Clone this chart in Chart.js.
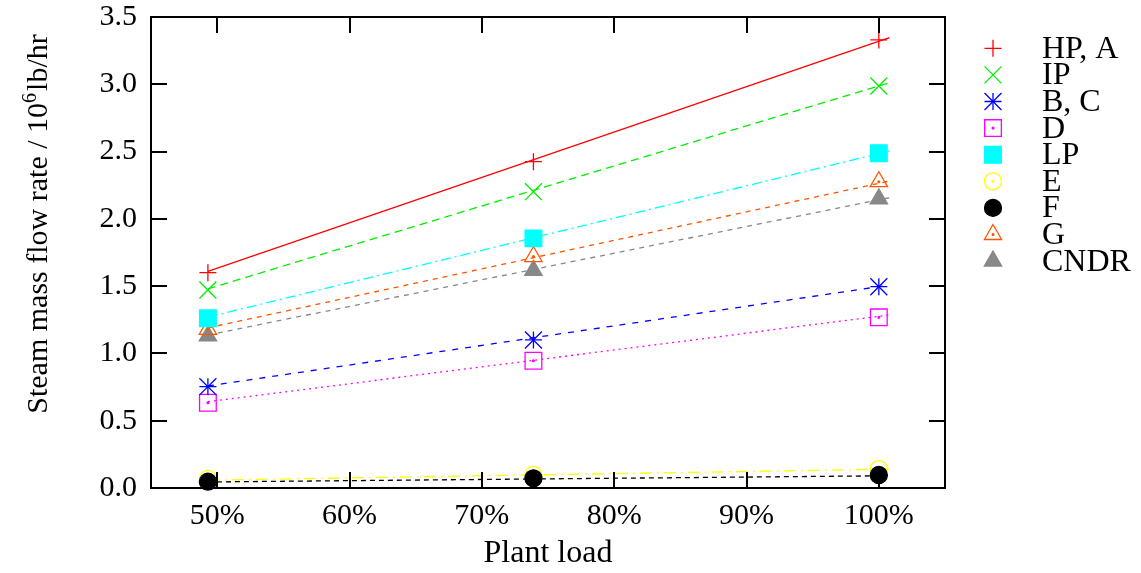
<!DOCTYPE html>
<html><head><meta charset="utf-8">
<script src="https://cdn.jsdelivr.net/npm/chart.js@4/dist/chart.umd.min.js"></script>
<style>html,body{margin:0;padding:0;background:#fff}#wrap{width:1141px;height:573px}</style>
</head><body><div id="wrap"><canvas id="c" width="1141" height="573"></canvas></div>
<script>
// ---- data ----
const seriesNames = ['HP, A', 'IP', 'B, C', 'D', 'LP', 'E', 'F', 'G', 'CNDR'];
const xLoad = [49.3, 73.9, 100];
const hpA  = [1.600, 2.425, 3.330];
const ip   = [1.471, 2.202, 2.987];
const bc   = [0.753, 1.100, 1.496];
const dD   = [0.634, 0.946, 1.268];
const lp   = [1.261, 1.855, 2.487];
const eE   = [0.068, 0.097, 0.141];
const fF   = [0.047, 0.072, 0.097];
const gG   = [1.179, 1.720, 2.276];
const cndr = [1.130, 1.618, 2.148];
// fitted trend lines (start / end values)
const fitX    = [49.3, 100.8];
const hpAFit  = [1.610, 3.346];
const ipFit   = [1.480, 3.012];
const bcFit   = [0.758, 1.508];
const dFit    = [0.641, 1.286];
const lpFit   = [1.270, 2.504];
const eFit    = [0.058, 0.140];
const fFit    = [0.045, 0.091];
const gFit    = [1.190, 2.281];
const cndrFit = [1.137, 2.157];
const xTicks = [50, 60, 70, 80, 90, 100];
const yTicks = [0, 0.5, 1.0, 1.5, 2.0, 2.5, 3.0, 3.5];

const pts = (xs, ys) => xs.map((x, i) => ({x: x, y: ys[i]}));
const FONT = "'Liberation Serif', 'Times New Roman', serif";
const NONE = 'rgba(0,0,0,0)';
const DOT = {style: 'circle', r: 0.9, fill: true};

const series = [
  {vals: hpA,  fit: hpAFit,  color: '#ff0000', style: 'cross',    r: 8.5, fill: false, dash: []},
  {vals: ip,   fit: ipFit,   color: '#00ee00', style: 'crossRot', r: 12,  fill: false, dash: [8, 5]},
  {vals: bc,   fit: bcFit,   color: '#0000ff', style: 'cross',    r: 8.5, fill: false, dash: [6, 7],
   extra: {style: 'crossRot', r: 12, fill: false}},
  {vals: dD,   fit: dFit,    color: '#ff00ff', style: 'rect',     r: 11.8,fill: false, dash: [2, 4], extra: DOT},
  {vals: lp,   fit: lpFit,   color: '#00ffff', style: 'rect',     r: 11.8,fill: true,  dash: [10, 4, 2, 4]},
  {vals: eE,   fit: eFit,    color: '#ffff00', style: 'circle',   r: 8.5, fill: false, dash: [12, 5, 2, 5], extra: DOT},
  {vals: fF,   fit: fFit,    color: '#000000', style: 'circle',   r: 8.5, fill: true,  dash: [5, 4]},
  {vals: gG,   fit: gFit,    color: '#ff5500', style: 'triangle', r: 10,  fill: false, dash: [5, 5], extra: DOT},
  {vals: cndr, fit: cndrFit, color: '#888888', style: 'triangle', r: 10,  fill: true,  dash: [5, 5]}
];

const datasets = [];
series.forEach((s, i) => {
  datasets.push({
    type: 'line', label: seriesNames[i] + ' fit', data: pts(fitX, s.fit),
    borderColor: s.color, borderWidth: 1.3, borderDash: s.dash, pointRadius: 0,
    fill: false, tension: 0, order: 10
  });
});
const markerDs = (s, m, label, order) => ({
  type: 'scatter', label: label, data: pts(xLoad, s.vals),
  pointStyle: m.style, pointRadius: m.r, pointHoverRadius: m.r,
  borderColor: s.color, backgroundColor: m.fill ? s.color : NONE,
  pointBorderWidth: 1.3, borderWidth: 1.3, showLine: false, clip: false, order: order
});
series.forEach((s, i) => {
  const ord = seriesNames[i] === 'F' ? 0 : 1;
  datasets.push(markerDs(s, s, seriesNames[i], ord));
  if (s.extra) datasets.push(markerDs(s, s.extra, seriesNames[i] + ' (mark)', ord));
});

const framePlugin = {
  id: 'frame',
  afterDatasetsDraw(chart) {
    const {ctx, chartArea: a, scales: {x, y}} = chart;
    ctx.save();
    ctx.strokeStyle = '#000'; ctx.lineWidth = 2;
    ctx.strokeRect(a.left, a.top, a.right - a.left, a.bottom - a.top);
    const L = 16;
    ctx.beginPath();
    x.ticks.forEach(t => {
      const px = Math.round(x.getPixelForValue(t.value));
      ctx.moveTo(px, a.bottom); ctx.lineTo(px, a.bottom - L);
      ctx.moveTo(px, a.top); ctx.lineTo(px, a.top + L);
    });
    y.ticks.forEach(t => {
      const py = Math.round(y.getPixelForValue(t.value));
      ctx.moveTo(a.left, py); ctx.lineTo(a.left + L, py);
      ctx.moveTo(a.right, py); ctx.lineTo(a.right - L, py);
    });
    ctx.stroke();
    ctx.restore();
  }
};

const titleLegendPlugin = {
  id: 'titleLegend',
  afterDraw(chart) {
    const ctx = chart.ctx;
    ctx.save();
    // y axis title with superscript
    const main = 30, sup = 20;
    const p1 = 'Steam mass flow rate / 10', p2 = '6', p3 = 'lb/hr';
    ctx.font = main + 'px ' + FONT;
    const w1 = ctx.measureText(p1).width, w3 = ctx.measureText(p3).width;
    ctx.font = sup + 'px ' + FONT;
    const w2 = ctx.measureText(p2).width;
    const total = w1 + w2 + 2 + w3;
    ctx.translate(47, 224);
    ctx.rotate(-Math.PI / 2);
    ctx.fillStyle = '#000';
    ctx.textBaseline = 'alphabetic';
    ctx.textAlign = 'left';
    let xx = -total / 2;
    ctx.font = main + 'px ' + FONT; ctx.fillText(p1, xx, 0); xx += w1;
    ctx.font = sup + 'px ' + FONT; ctx.fillText(p2, xx, -11); xx += w2 + 2;
    ctx.font = main + 'px ' + FONT; ctx.fillText(p3, xx, 0);
    ctx.restore();

    // legend
    ctx.save();
    const mx = 993, tx = 1042, y0 = 48.3, dy = 26.6;
    const drawMark = (m, color, yy) => {
      ctx.strokeStyle = color;
      ctx.fillStyle = m.fill ? color : NONE;
      ctx.lineWidth = 1.3;
      Chart.helpers.drawPoint(ctx, {pointStyle: m.style, radius: m.r, rotation: 0, borderWidth: 1.3}, mx, yy);
    };
    series.forEach((s, i) => {
      const yy = y0 + i * dy;
      drawMark(s, s.color, yy);
      if (s.extra) drawMark(s.extra, s.color, yy);
      ctx.fillStyle = '#000';
      ctx.font = '32px ' + FONT;
      ctx.textBaseline = 'middle';
      ctx.textAlign = 'left';
      ctx.fillText(seriesNames[i], tx, yy + 1);
    });
    ctx.restore();
  }
};

new Chart(document.getElementById('c'), {
  data: {datasets: datasets},
  options: {
    responsive: false, animation: false, devicePixelRatio: 1,
    layout: {padding: {left: 0, top: 17, right: 196, bottom: 0}},
    plugins: {legend: {display: false}, tooltip: {enabled: false}},
    scales: {
      x: {
        type: 'linear', min: 45, max: 105,
        afterBuildTicks: sc => { sc.ticks = xTicks.map(v => ({value: v})); },
        afterFit: sc => { sc.height = 85; sc.paddingLeft = 0; sc.paddingRight = 0; },
        grid: {display: false, drawTicks: false},
        border: {display: false},
        ticks: {color: '#000', padding: 10, font: {family: FONT, size: 30},
                callback: v => v + '%'},
        title: {display: true, text: 'Plant load', color: '#000', padding: {top: 0, bottom: 0},
                font: {family: FONT, size: 32}}
      },
      y: {
        type: 'linear', min: 0, max: 3.5,
        afterBuildTicks: sc => { sc.ticks = yTicks.map(v => ({value: v})); },
        afterFit: sc => { sc.width = 151; sc.paddingTop = 0; sc.paddingBottom = 0; },
        grid: {display: false, drawTicks: false},
        border: {display: false},
        ticks: {color: '#000', padding: 14, font: {family: FONT, size: 30, lineHeight: 1.0},
                callback: v => Number(v).toFixed(1)}
      }
    }
  },
  plugins: [framePlugin, titleLegendPlugin]
});
</script></body></html>
